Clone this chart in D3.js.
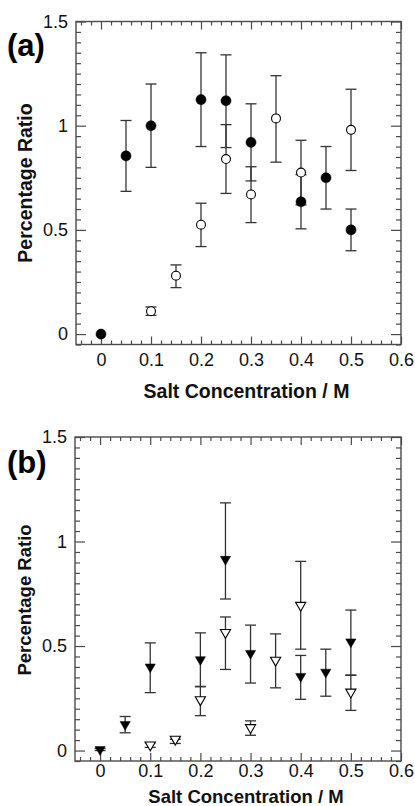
<!DOCTYPE html>
<html>
<head>
<meta charset="utf-8">
<script src="https://cdn.jsdelivr.net/npm/d3@7"></script>
<style>
  body { margin: 0; background: #fff; }
  svg { display: block; font-family: "Liberation Sans", Arial, sans-serif; }
</style>
</head>
<body>
<svg id="chart" width="415" height="806"></svg>
<script>
// axis ticks
var xTicks = [0, 0.1, 0.2, 0.3, 0.4, 0.5, 0.6],
    xTickLabels = ["0", "0.1", "0.2", "0.3", "0.4", "0.5", "0.6"],
    yTicks = [0, 0.5, 1, 1.5],
    yTickLabels = ["0", "0.5", "1", "1.5"];

// panel (a): filled circles
var concA1 = [0, 0.05, 0.1, 0.2, 0.25, 0.3, 0.4, 0.45, 0.5],
    ratioA1 = [0, 0.855, 1.0, 1.125, 1.12, 0.92, 0.635, 0.75, 0.50],
    errDownA1 = [0, 0.17, 0.2, 0.225, 0.225, 0.185, 0.13, 0.15, 0.10],
    errUpA1 = [0, 0.17, 0.2, 0.225, 0.22, 0.185, 0.13, 0.15, 0.10];

// panel (a): open circles
var concA2 = [0.1, 0.15, 0.2, 0.25, 0.3, 0.35, 0.4, 0.5],
    ratioA2 = [0.11, 0.28, 0.525, 0.84, 0.67, 1.035, 0.775, 0.98],
    errDownA2 = [0.02, 0.057, 0.105, 0.165, 0.135, 0.21, 0.155, 0.195],
    errUpA2 = [0.02, 0.052, 0.103, 0.165, 0.133, 0.205, 0.155, 0.195];

// panel (b): filled triangles
var concB1 = [0, 0.05, 0.1, 0.2, 0.25, 0.3, 0.35, 0.4, 0.45, 0.5],
    ratioB1 = [0.005, 0.125, 0.40, 0.435, 0.915, 0.465, null, 0.355, 0.375, 0.52],
    errDownB1 = [0.005, 0.04, 0.123, 0.128, 0.19, 0.142, null, 0.11, 0.115, 0.16],
    errUpB1 = [0.005, 0.038, 0.115, 0.128, 0.27, 0.135, null, 0.1, 0.11, 0.152];

// panel (b): open triangles
var concB2 = [0.1, 0.15, 0.2, 0.25, 0.3, 0.35, 0.4, 0.5],
    ratioB2 = [0.027, 0.054, 0.243, 0.565, 0.11, 0.432, 0.695, 0.28],
    errDownB2 = [0.012, 0.02, 0.076, 0.177, 0.037, 0.132, 0.21, 0.088],
    errUpB2 = [0.01, 0.0, 0.062, 0.074, 0.032, 0.126, 0.21, 0.081];

function series(conc, ratio, down, up) {
    return conc.map(function(c, i) {
        return {x: c, y: ratio[i], lo: ratio[i] - down[i], hi: ratio[i] + up[i]};
    }).filter(function(d) { return d.y != null; });
}

var svg = d3.select("#chart");
var ink = "#111", frameColor = "#4a4a4a", barColor = "#333";

function drawPanel(o) {
    var x = d3.scaleLinear().domain([-0.05, 0.6]).range([o.left, o.right]);
    var y = d3.scaleLinear().domain([-0.05, 1.5]).range([o.bottom, o.top]);
    var g = svg.append("g");

    var xMinor = d3.range(-0.04, 0.6, 0.02).filter(function(v) {
        return Math.abs(v * 10 - Math.round(v * 10)) > 1e-6;
    });
    var yMinor = d3.range(0.05, 1.5, 0.05).concat([-0.05]).filter(function(v) {
        return Math.abs(v * 2 - Math.round(v * 2)) > 1e-6;
    });

    function tickStyle(sel) {
        sel.select(".domain").remove();
        sel.selectAll("line").attr("stroke", frameColor).attr("stroke-width", 1.2);
        sel.selectAll("text").attr("fill", ink).attr("font-size", 18);
    }

    // bottom
    g.append("g").attr("transform", "translate(0," + o.bottom + ")")
        .call(d3.axisBottom(x).tickValues(xMinor).tickSize(-4).tickFormat("")).call(tickStyle);
    g.append("g").attr("transform", "translate(0," + o.bottom + ")")
        .call(d3.axisBottom(x).tickValues(xTicks).tickSize(-8).tickPadding(o.xLabelPad)
            .tickFormat(function(d, i) { return xTickLabels[i]; }))
        .call(tickStyle);
    // top
    g.append("g").attr("transform", "translate(0," + o.top + ")")
        .call(d3.axisTop(x).tickValues(xMinor).tickSize(-4).tickFormat("")).call(tickStyle);
    g.append("g").attr("transform", "translate(0," + o.top + ")")
        .call(d3.axisTop(x).tickValues(xTicks).tickSize(-8).tickFormat("")).call(tickStyle);
    // left
    g.append("g").attr("transform", "translate(" + o.left + ",0)")
        .call(d3.axisLeft(y).tickValues(yMinor).tickSize(-5).tickFormat("")).call(tickStyle);
    g.append("g").attr("transform", "translate(" + o.left + ",0)")
        .call(d3.axisLeft(y).tickValues(yTicks).tickSize(-10).tickPadding(8)
            .tickFormat(function(d, i) { return yTickLabels[i]; }))
        .call(tickStyle);
    // right
    g.append("g").attr("transform", "translate(" + o.right + ",0)")
        .call(d3.axisRight(y).tickValues(yMinor).tickSize(-5).tickFormat("")).call(tickStyle);
    g.append("g").attr("transform", "translate(" + o.right + ",0)")
        .call(d3.axisRight(y).tickValues(yTicks).tickSize(-10).tickFormat("")).call(tickStyle);

    // frame
    g.append("rect")
        .attr("x", o.left).attr("y", o.top)
        .attr("width", o.right - o.left).attr("height", o.bottom - o.top)
        .attr("fill", "none").attr("stroke", frameColor).attr("stroke-width", 1.4);

    // error bars
    o.series.forEach(function(s) {
        var eb = g.append("g").selectAll("g").data(s.data).enter().append("g")
            .attr("stroke", barColor).attr("stroke-width", 1.3);
        eb.filter(function(d) { return y(d.lo) - y(d.hi) > 1; }).each(function(d) {
            var e = d3.select(this);
            e.append("line").attr("x1", x(d.x)).attr("x2", x(d.x)).attr("y1", y(d.lo)).attr("y2", y(d.hi));
            e.append("line").attr("x1", x(d.x) - 5.5).attr("x2", x(d.x) + 5.5).attr("y1", y(d.lo)).attr("y2", y(d.lo));
            e.append("line").attr("x1", x(d.x) - 5.5).attr("x2", x(d.x) + 5.5).attr("y1", y(d.hi)).attr("y2", y(d.hi));
        });
    });

    // markers
    o.series.forEach(function(s) {
        var sym = d3.symbol().type(s.shape).size(s.size);
        g.append("g").selectAll("path").data(s.data).enter().append("path")
            .attr("d", sym)
            .attr("transform", function(d) {
                return "translate(" + x(d.x) + "," + y(d.y) + ")" + (s.shape === d3.symbolTriangle ? " rotate(180)" : "");
            })
            .attr("fill", s.filled ? "#000" : "#fff")
            .attr("stroke", "#000")
            .attr("stroke-width", s.filled ? 0.5 : 1.1);
    });

    // axis titles
    svg.append("text")
        .attr("x", (x(-0.05) + x(0.6)) / 2 + 8).attr("y", o.xTitleY)
        .attr("text-anchor", "middle").attr("font-weight", "bold")
        .attr("font-size", o.titleSize).attr("fill", ink)
        .text("Salt Concentration / M");
    svg.append("text")
        .attr("transform", "translate(" + o.yTitleX + "," + o.yTitleMid + ") rotate(-90)")
        .attr("text-anchor", "middle").attr("font-weight", "bold")
        .attr("font-size", o.titleSize).attr("fill", ink)
        .text("Percentage Ratio");
    svg.append("text")
        .attr("x", 7).attr("y", o.tagY)
        .attr("font-weight", "bold").attr("font-size", 31).attr("fill", "#000")
        .text(o.tag);
}

drawPanel({
    left: 76, right: 401, top: 21.5, bottom: 344.5,
    xLabelPad: 9, xTitleY: 398, titleSize: 19.5,
    yTitleX: 32, yTitleMid: 183, tag: "(a)", tagY: 56,
    series: [
        {data: series(concA1, ratioA1, errDownA1, errUpA1), shape: d3.symbolCircle, size: 80, filled: true},
        {data: series(concA2, ratioA2, errDownA2, errUpA2), shape: d3.symbolCircle, size: 62, filled: false}
    ]
});

drawPanel({
    left: 75, right: 401, top: 437, bottom: 761,
    xLabelPad: 3, xTitleY: 803, titleSize: 18.5,
    yTitleX: 31, yTitleMid: 600, tag: "(b)", tagY: 473,
    series: [
        {data: series(concB1, ratioB1, errDownB1, errUpB1), shape: d3.symbolTriangle, size: 45, filled: true},
        {data: series(concB2, ratioB2, errDownB2, errUpB2), shape: d3.symbolTriangle, size: 45, filled: false}
    ]
});
</script>
</body>
</html>
